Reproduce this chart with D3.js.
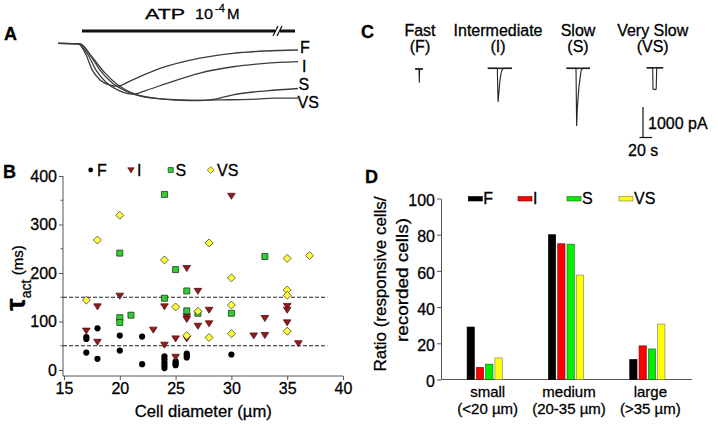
<!DOCTYPE html>
<html><head><meta charset="utf-8">
<script src="https://cdn.jsdelivr.net/npm/d3@7"></script>
<style>
html,body{margin:0;padding:0;background:#fff;}
svg{display:block;font-family:"Liberation Sans",Arial,Helvetica,sans-serif;}
svg text{stroke:#000;stroke-width:0.3px;}
</style></head><body>
<svg id="chart" width="718" height="426"></svg>
<script>
// ---------------- Panel A: ATP-evoked currents (time s, normalized current) ----------------
const traceNamesA = ["F", "I", "S", "VS"];
const traceF  = [[0,0],[10,-0.004],[14,-0.2],[17,-0.46],[21,-0.64],[26,-0.73],[30,-0.75],[36,-0.66],[51,-0.44],[71,-0.26],[87.5,-0.175],[103.5,-0.135],[120,-0.117]];
const traceI  = [[0,0],[10,-0.004],[15,-0.2],[19,-0.47],[24,-0.68],[30,-0.82],[37.5,-0.89],[43.5,-0.83],[54.4,-0.70],[71,-0.52],[87.5,-0.41],[103.5,-0.35],[120,-0.32]];
const traceS  = [[0,0],[11,-0.01],[16,-0.2],[21,-0.47],[27,-0.69],[33.5,-0.83],[43.5,-0.94],[56,-0.98],[71,-1.0],[79.4,-0.97],[87.5,-0.90],[104.4,-0.83],[120,-0.79]];
const traceVS = [[0,0],[11,-0.01],[17,-0.24],[23,-0.5],[30,-0.73],[38.5,-0.89],[51,-0.97],[66,-1.0],[81,-0.99],[96,-0.98],[108.5,-0.96],[120,-0.96]];
const atpWindow = [12, 118.5];
const atpBreak = 110.5;

// ---------------- Panel C: example currents (time s, current pA) ----------------
const kineticNames = ["Fast", "Intermediate", "Slow", "Very Slow"];
const kineticAbbr  = ["(F)", "(I)", "(S)", "(VS)"];
const currentF  = [[-6,0],[0,0],[0.5,-450],[1,0],[6,0]];
const currentI  = [[-15,0],[0,0],[1.2,-1100],[2.5,-800],[4,-420],[6,-150],[8,-30],[10,0],[23,0]];
const currentS  = [[-15,0],[0,0],[1,-1890],[2,-1330],[4.6,-610],[7.7,-110],[10,0],[22,0]];
const currentVS = [[-9.5,0],[0,0],[0.5,-700],[3,-715],[5.5,-700],[6.3,0],[16.5,0]];
const scaleBarCurrent = 1000; // pA
const scaleBarTime = 20;      // s

// ---------------- Panel B: tau_act vs cell diameter ----------------
const seriesNames = ["F", "I", "S", "VS"];
const tauF  = [[17,68],[17,64],[17,36],[18,86],[18,23],[20,71],[20,40],[22,69],[22,12],[24,28],[24,22],[24,16],[24,10],[24,4],[25,18],[25,14],[25,10],[26,34],[26,30],[26,26],[30,32]];
const tauI  = [[17,81],[18,131],[18,58],[20,153],[23,83],[24,131],[24,52],[25,65],[25,27],[26,210],[26,110],[26,105],[26,65],[27,163],[27,91],[28,124],[28,96],[30,359],[32,71],[33,107],[33,72],[35,132],[35,124],[35,98],[36,55]];
const tauS  = [[20,241],[20,108],[20,98],[21,113],[24,362],[24,148],[25,207],[26,163],[26,122],[27,117],[30,117],[33,234]];
const tauVS = [[17,144],[18,268],[20,319],[24,227],[25,130],[26,71],[27,121],[28,262],[28,67],[30,190],[30,134],[30,75],[35,230],[35,165],[35,154],[35,80],[37,236]];
const tauThresholds = [50, 150];
const thresholdExtent = [15, 38.6];
const xTicksB = [15, 20, 25, 30, 35, 40];
const yTicksB = [0, 100, 200, 300, 400];
const yMinorB = [50, 150, 250, 350];

// ---------------- Panel D: ratio of responsive cells ----------------
const sizeGroups = ["small", "medium", "large"];
const sizeRanges = ["(<20 µm)", "(20-35 µm)", "(>35 µm)"];
const ratioF  = [29, 80, 11.1];
const ratioI  = [6.7, 75, 18.6];
const ratioS  = [8.5, 74.8, 16.9];
const ratioVS = [11.9, 57.7, 30.6];
const yTicksD = [0, 20, 40, 60, 80, 100];

// =====================================================================
const svg = d3.select("#chart");
svg.append("rect").attr("width", 718).attr("height", 426).attr("fill", "#fff");

function txt(g, x, y, s, size, opts = {}) {
  const t = g.append("text").attr("x", x).attr("y", y).attr("font-size", size).attr("fill", "#000").text(s);
  if (opts.anchor) t.attr("text-anchor", opts.anchor);
  if (opts.bold) t.attr("font-weight", "bold");
  if (opts.len) t.attr("textLength", opts.len).attr("lengthAdjust", "spacingAndGlyphs");
  return t;
}
function styleAxis(g, size) {
  g.selectAll("text").attr("font-size", size).attr("fill", "#000")
    .attr("font-family", '"Liberation Sans", Arial, sans-serif');
  g.selectAll("line,path").attr("stroke", "#555");
}

// panel letters
txt(svg, 4, 40, "A", 18, {bold: true});
txt(svg, 3, 178, "B", 18, {bold: true});
txt(svg, 361, 38, "C", 18, {bold: true});
txt(svg, 365, 183, "D", 18, {bold: true});

// ---------------- Panel A ----------------
{
  const g = svg.append("g");
  const xA = d3.scaleLinear().domain([0, 120]).range([58, 298]);
  const yA = d3.scaleLinear().domain([0, -1]).range([43.3, 100.5]);
  const line = d3.line().x(d => xA(d[0])).y(d => yA(d[1])).curve(d3.curveMonotoneX);
  [traceF, traceI, traceS, traceVS].forEach(tr => {
    g.append("path").attr("d", line(tr)).attr("fill", "none")
      .attr("stroke", "#3c3c3c").attr("stroke-width", 1.3);
  });
  const labelY = [53, 72, 90, 108];
  const labelX = [300, 302, 298.5, 297.5];
  traceNamesA.forEach((n, i) => txt(g, labelX[i], labelY[i], n, 16));
  // ATP bar with break
  const barY = 31;
  g.append("line").attr("x1", xA(atpWindow[0])).attr("x2", xA(atpWindow[1]))
    .attr("y1", barY).attr("y2", barY).attr("stroke", "#111").attr("stroke-width", 3);
  const bx = xA(atpBreak);
  g.append("rect").attr("x", bx - 4).attr("y", barY - 3).attr("width", 5).attr("height", 6).attr("fill", "#fff");
  [-4, 0].forEach(o => g.append("line")
    .attr("x1", bx + o - 2).attr("y1", barY + 5).attr("x2", bx + o + 3).attr("y2", barY - 5)
    .attr("stroke", "#111").attr("stroke-width", 1.3));
  txt(g, 145, 18.5, "ATP", 15, {len: 40});
  txt(g, 195, 18.5, "10", 15, {len: 18});
  txt(g, 215, 12, "-4", 11);
  txt(g, 227, 18.5, "M", 15);
}

// ---------------- Panel C ----------------
{
  const g = svg.append("g");
  const colX = [420, 498, 578, 652.7];
  kineticNames.forEach((n, i) => txt(g, colX[i], 36, n, 16, {anchor: "middle"}));
  kineticAbbr.forEach((n, i) => txt(g, colX[i], 52, n, 16, {anchor: "middle"}));
  const xC = d3.scaleLinear().domain([0, scaleBarTime]).range([0, 12.7]);
  const yC = d3.scaleLinear().domain([0, -scaleBarCurrent]).range([0, 30.5]);
  const line = d3.line().x(d => xC(d[0])).y(d => yC(d[1]));
  const spikeX = [419, 497.3, 576, 652.7];
  const baseY = [69, 68.3, 68.3, 67.8];
  [currentF, currentI, currentS, currentVS].forEach((tr, i) => {
    const tg = g.append("g").attr("transform", `translate(${spikeX[i]},${baseY[i]})`);
    tg.append("path").attr("d", line(tr)).attr("fill", "none")
      .attr("stroke", "#222").attr("stroke-width", 1.1);
    tg.append("line").attr("x1", xC(tr[0][0])).attr("x2", xC(tr[tr.length - 1][0]))
      .attr("y1", 0).attr("y2", 0).attr("stroke", "#222").attr("stroke-width", 1.6);
  });
  // scale bar
  const sx = 643, sy = 137.5;
  g.append("line").attr("x1", sx).attr("x2", sx).attr("y1", sy - yC(-scaleBarCurrent)).attr("y2", sy)
    .attr("stroke", "#111").attr("stroke-width", 1.2);
  g.append("line").attr("x1", sx - 3.5).attr("x2", sx - 3.5 + xC(scaleBarTime)).attr("y1", sy).attr("y2", sy)
    .attr("stroke", "#111").attr("stroke-width", 1.2);
  txt(g, 648, 129, scaleBarCurrent + " pA", 16);
  txt(g, 628, 155.5, scaleBarTime + " s", 16);
}

// ---------------- Panel B ----------------
{
  const g = svg.append("g");
  const xB = d3.scaleLinear().domain([15, 40]).range([64, 343]);
  const yB = d3.scaleLinear().domain([0, 400]).range([370, 176]);
  const axisY = 376;
  const xAx = g.append("g").attr("transform", `translate(0,${axisY})`)
    .call(d3.axisBottom(xB).tickValues(xTicksB).tickSize(4).tickPadding(3).tickSizeOuter(0));
  xAx.select(".domain").remove();
  g.append("line").attr("x1", xB(15) - 1).attr("x2", xB(40)).attr("y1", axisY).attr("y2", axisY).attr("stroke", "#555");
  styleAxis(xAx, 16);
  const yAx = g.append("g").attr("transform", `translate(${xB(15) - 1},0)`)
    .call(d3.axisLeft(yB).tickValues(yTicksB).tickSize(4).tickPadding(2).tickSizeOuter(0));
  yAx.select(".domain").remove();
  styleAxis(yAx, 16);
  g.append("line").attr("x1", xB(15) - 1).attr("x2", xB(15) - 1).attr("y1", yB(400)).attr("y2", axisY).attr("stroke", "#555");
  yMinorB.forEach(v => g.append("line").attr("x1", xB(15) - 3.5).attr("x2", xB(15) - 1)
    .attr("y1", yB(v)).attr("y2", yB(v)).attr("stroke", "#555"));
  // thresholds
  tauThresholds.forEach(v => g.append("line").attr("x1", xB(thresholdExtent[0]) - 1).attr("x2", xB(thresholdExtent[1]))
    .attr("y1", yB(v)).attr("y2", yB(v)).attr("stroke", "#222").attr("stroke-width", 1).attr("stroke-dasharray", "4,2"));
  // symbols
  const triDown = "M-3.8,-2.6L3.8,-2.6L0,3.4Z";
  const diamond = "M0,-4L4,0L0,4L-4,0Z";
  const square = "M-3,-3H3V3H-3Z";
  const styles = [
    {path: null, fill: "#000", stroke: "none"},
    {path: triDown, fill: "#8c1c1e", stroke: "#5a1010"},
    {path: square, fill: "#33cc33", stroke: "#1e3a1e"},
    {path: diamond, fill: "#ffff33", stroke: "#444"}
  ];
  function drawMark(gg, st, x, y, small) {
    if (!st.path) {
      gg.append("circle").attr("cx", x).attr("cy", y).attr("r", small ? 2.4 : 3.1).attr("fill", st.fill);
    } else {
      gg.append("path").attr("d", st.path).attr("transform", `translate(${x},${y})${small ? " scale(0.85)" : ""}`)
        .attr("fill", st.fill).attr("stroke", st.stroke).attr("stroke-width", 0.8);
    }
  }
  [tauF, tauI, tauS, tauVS].forEach((pts, i) => {
    pts.forEach(p => drawMark(g, styles[i], xB(p[0]), yB(p[1]), false));
  });
  // legend
  const legX = [90.7, 131, 170.7, 210.7];
  const legTX = [97, 137, 175.5, 217];
  seriesNames.forEach((n, i) => {
    drawMark(g, styles[i], legX[i], 170, true);
    txt(g, legTX[i], 175.5, n, 16);
  });
  // axis titles
  txt(g, 203.3, 417, "Cell diameter (µm)", 16, {anchor: "middle", len: 137});
  const yl = g.append("text").attr("transform", "translate(25,278) rotate(-90)").attr("text-anchor", "middle").attr("fill", "#000");
  yl.append("tspan").attr("font-size", 28).attr("font-weight", "bold").text("τ");
  yl.append("tspan").attr("font-size", 14).attr("dy", 6).text("act");
  yl.append("tspan").attr("font-size", 15).attr("dy", -8).text(" (ms)");
}

// ---------------- Panel D ----------------
{
  const g = svg.append("g");
  const yD = d3.scaleLinear().domain([0, 100]).range([379.5, 198.5]);
  const xD = d3.scaleBand().domain(sizeGroups).range([444, 688]);
  const inner = d3.scaleBand().domain(seriesNames).range([-17.6, 17.6]).paddingInner(0.215);
  const colors = ["#000000", "#ff0000", "#00ee00", "#ffff00"];
  const strokes = ["#000", "#661111", "#226622", "#777"];
  const yAx = g.append("g").attr("transform", "translate(441,0)")
    .call(d3.axisLeft(yD).tickValues(yTicksD).tickSize(4).tickPadding(2).tickSizeOuter(0));
  styleAxis(yAx, 16);
  yAx.selectAll("text").attr("dy", "0.45em");
  g.append("line").attr("x1", 441).attr("x2", 692).attr("y1", yD(0)).attr("y2", yD(0)).attr("stroke", "#555");
  [ratioF, ratioI, ratioS, ratioVS].forEach((vals, si) => {
    vals.forEach((v, gi) => {
      const cx = xD(sizeGroups[gi]) + xD.bandwidth() / 2;
      g.append("rect").attr("x", cx + inner(seriesNames[si])).attr("width", inner.bandwidth())
        .attr("y", yD(v)).attr("height", yD(0) - yD(v))
        .attr("fill", colors[si]).attr("stroke", strokes[si]).attr("stroke-width", 0.6);
    });
  });
  sizeGroups.forEach((n, gi) => {
    const cx = xD(n) + xD.bandwidth() / 2 + 3;
    txt(g, cx, 397, n, 15, {anchor: "middle"});
    txt(g, cx, 413.5, sizeRanges[gi], 15, {anchor: "middle"});
  });
  // legend
  const lx = [468.3, 518, 567, 619];
  seriesNames.forEach((n, i) => {
    g.append("rect").attr("x", lx[i]).attr("y", 196.5).attr("width", 14).attr("height", 4.5)
      .attr("fill", colors[i]).attr("stroke", strokes[i]).attr("stroke-width", 0.6);
    txt(g, lx[i] + 15, 204, n, 16);
  });
  // y label
  txt(g, 0, 0, "Ratio (responsive cells/", 17, {anchor: "middle", len: 175}).attr("transform", "translate(386,284) rotate(-90)");
  txt(g, 0, 0, "recorded cells)", 17, {anchor: "middle", len: 124}).attr("transform", "translate(407.5,280) rotate(-90)");
}
</script>
</body></html>
